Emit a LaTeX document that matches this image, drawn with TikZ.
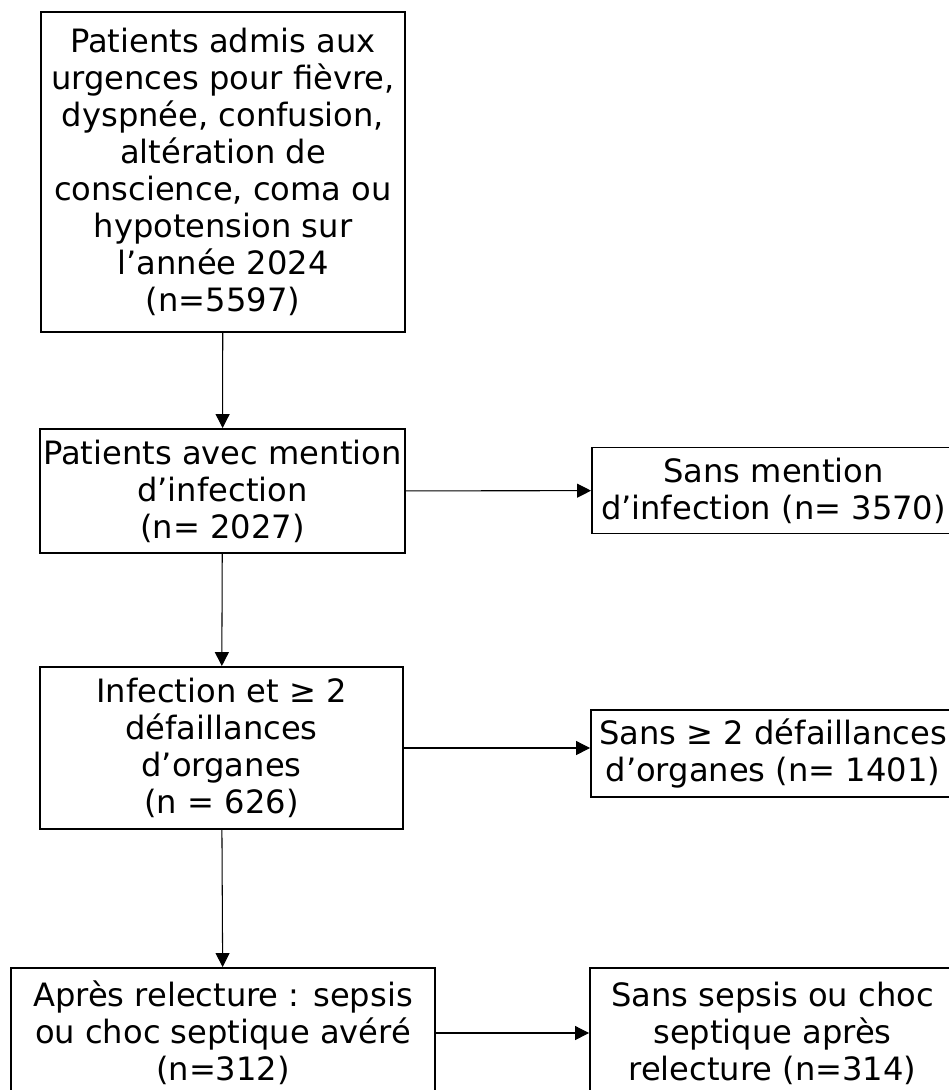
\documentclass[tikz,border=0pt]{standalone}
\usepackage{fontspec}
\setmainfont{DejaVu Sans}
\usetikzlibrary{arrows.meta}
\begin{document}
\begin{tikzpicture}[x=0.02cm,y=-0.02cm,
  boite/.style={draw,line width=1.1pt,align=center,inner sep=0pt,font=\fontsize{18.3}{21}\selectfont},
  fleche/.style={-{Triangle[length=0.28cm,width=0.28cm]},line width=0.6pt}]
  \useasboundingbox (0,0) rectangle (949,1090);
  % colonne principale
  \node[boite,minimum width=7.28cm,minimum height=6.4cm] (admis) at (223,172)
    {Patients admis aux\\urgences pour fièvre,\\dyspnée, confusion,\\altération de\\conscience, coma ou\\hypotension sur\\l’année 2024\\(n=5597)};
  \node[boite,minimum width=7.3cm,minimum height=2.48cm] (infection) at (222.5,491)
    {Patients avec mention\\d’infection\\(n= 2027)};
  \node[boite,minimum width=7.26cm,minimum height=3.24cm] (defaillances) at (221.5,748)
    {Infection et ≥ 2\\défaillances\\d’organes\\(n = 626)};
  \node[boite,minimum width=8.48cm,minimum height=2.6cm] (sepsis) at (223,1033)
    {Après relecture : sepsis\\ou choc septique avéré\\(n=312)};
  % exclusions
  \node[boite,minimum width=7.26cm,minimum height=1.72cm] (sansmention) at (773.5,490.5)
    {Sans mention\\d’infection (n= 3570)};
  \node[boite,minimum width=7.28cm,minimum height=1.74cm] (sansdef) at (773,753.5)
    {Sans ≥ 2 défaillances\\d’organes (n= 1401)};
  \node[boite,minimum width=7.3cm,minimum height=2.6cm] (sanssepsis) at (772.5,1033)
    {Sans sepsis ou choc\\septique après\\relecture (n=314)};
  % fleches
  \draw[fleche] (admis) -- (infection);
  \draw[fleche] (infection) -- (defaillances);
  \draw[fleche] (defaillances) -- (sepsis);
  \draw[fleche] (infection) -- (sansmention);
  \draw[fleche] (defaillances) -- (defaillances -| sansdef.west);
  \draw[fleche] (sepsis) -- (sanssepsis);
\end{tikzpicture}
\end{document}
